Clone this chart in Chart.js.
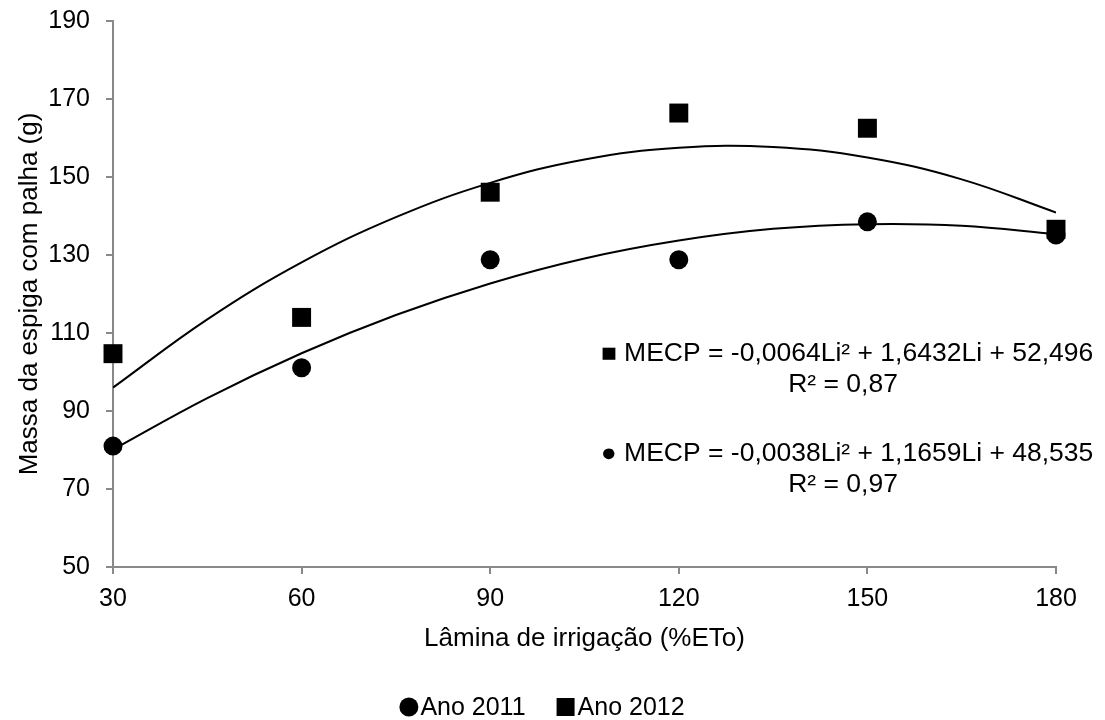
<!DOCTYPE html>
<html>
<head>
<meta charset="utf-8">
<script src="https://cdn.jsdelivr.net/npm/chart.js@4/dist/chart.umd.min.js"></script>
<style>
  html, body { margin: 0; padding: 0; background: #fff; }
  #wrap { width: 1105px; height: 720px; }
</style>
</head>
<body>
<div id="wrap"><canvas id="chart" width="1105" height="720"></canvas></div>
<script>
// Irrigation depth (%ETo)
const laminas = [30, 60, 90, 120, 150, 180];
// Measured ear mass with husk (g)
const ano2011 = [81, 101.1, 128.8, 128.8, 138.5, 135.1];
const ano2012 = [104.7, 114, 146.1, 166.4, 162.5, 136.6];

// Trend curves
const trendX = [30, 45, 60, 75, 90, 105, 120, 135, 150, 165, 180];
const trend2011 = [80.1, 93.3, 104.8, 114.6, 122.7, 129.1, 133.7, 136.7, 137.9, 137.5, 135.3];
const trend2012 = [96.0, 113.5, 128.1, 139.7, 148.5, 154.5, 157.5, 157.7, 155.0, 149.4, 140.9];

// Equation labels
const eq2012 = ['\u25A0 MECP = -0,0064Li\u00B2 + 1,6432Li + 52,496', 'R\u00B2 = 0,87'];
const eq2011 = ['\u25CF MECP = -0,0038Li\u00B2 + 1,1659Li + 48,535', 'R\u00B2 = 0,97'];
const legendItems = ['Ano 2011', 'Ano 2012'];

const FONT = "'Liberation Sans', Arial, sans-serif";
const axisGray = '#898989';

const toPoints = (xs, ys) => xs.map((x, i) => ({ x: x, y: ys[i] }));

// equations + bottom legend
const annotations = {
  id: 'annotations',
  afterDraw(chart) {
    const ctx = chart.ctx;
    ctx.save();
    ctx.fillStyle = '#000';
    ctx.textBaseline = 'alphabetic';
    ctx.textAlign = 'center';
    ctx.font = '25px ' + FONT;
    const cx = 847, sx = 1.06;
    const line = (txt, x, y) => {
      ctx.save();
      ctx.translate(x, y);
      ctx.scale(sx, 1);
      ctx.fillText(txt, 0, 0);
      ctx.restore();
    };
    line(eq2012[0], cx, 361);
    line(eq2012[1], cx - 4, 392);
    line(eq2011[0], cx, 461);
    line(eq2011[1], cx - 4, 492);

    // legend
    ctx.font = '25px ' + FONT;
    ctx.textAlign = 'left';
    ctx.textBaseline = 'middle';
    const mark = 19, gap = 2, between = 31;
    const w1 = ctx.measureText(legendItems[0]).width;
    const w2 = ctx.measureText(legendItems[1]).width;
    const total = mark + gap + w1 + between + mark + gap + w2;
    let x = 542 - total / 2;
    const y = 707;
    ctx.beginPath();
    ctx.arc(x + mark / 2, y, mark / 2, 0, Math.PI * 2);
    ctx.fill();
    x += mark + gap;
    ctx.fillText(legendItems[0], x, y + 1);
    x += w1 + between;
    ctx.fillRect(x, y - 9, 18, 18);
    x += mark + gap;
    ctx.fillText(legendItems[1], x, y + 1);
    ctx.restore();
  }
};

new Chart(document.getElementById('chart'), {
  type: 'scatter',
  plugins: [annotations],
  data: {
    datasets: [
      {
        label: 'Ano 2011',
        data: toPoints(laminas, ano2011),
        pointStyle: 'circle',
        pointRadius: 9.5,
        backgroundColor: '#000',
        borderColor: '#000',
        borderWidth: 0,
        clip: false,
        order: 1
      },
      {
        label: 'Ano 2012',
        data: toPoints(laminas, ano2012),
        pointStyle: 'rect',
        pointRadius: 13.4,
        backgroundColor: '#000',
        borderColor: '#000',
        borderWidth: 0,
        clip: false,
        order: 2
      },
      {
        label: 'Tendência 2011',
        type: 'line',
        data: toPoints(trendX, trend2011),
        borderColor: '#000',
        borderWidth: 2,
        pointRadius: 0,
        tension: 0.4,
        fill: false,
        order: 3
      },
      {
        label: 'Tendência 2012',
        type: 'line',
        data: toPoints(trendX, trend2012),
        borderColor: '#000',
        borderWidth: 2,
        pointRadius: 0,
        tension: 0.4,
        fill: false,
        order: 3
      }
    ]
  },
  options: {
    responsive: false,
    animation: false,
    layout: { padding: { top: 21, right: 49, bottom: 62, left: 0 } },
    scales: {
      x: {
        type: 'linear',
        min: 30,
        max: 180,
        afterFit: (scale) => { scale.height = 91; },
        ticks: {
          stepSize: 30,
          color: '#000',
          padding: 10,
          font: { family: FONT, size: 25 }
        },
        grid: {
          display: true,
          drawOnChartArea: false,
          drawTicks: true,
          tickLength: 7,
          color: axisGray,
          lineWidth: 2
        },
        border: { color: axisGray, width: 2 },
        title: {
          display: true,
          text: 'Lâmina de irrigação (%ETo)',
          color: '#000',
          font: { family: FONT, size: 26 },
          padding: { top: 4, bottom: 4 }
        }
      },
      y: {
        min: 50,
        max: 190,
        afterFit: (scale) => {
          scale.width = 113;
          // let layout padding decide the top/bottom edges
          scale.paddingTop = 0;
          scale.paddingBottom = 0;
        },
        ticks: {
          stepSize: 20,
          color: '#000',
          padding: 16,
          font: { family: FONT, size: 25 }
        },
        grid: {
          display: true,
          drawOnChartArea: false,
          drawTicks: true,
          tickLength: 7,
          color: axisGray,
          lineWidth: 2
        },
        border: { color: axisGray, width: 2 },
        title: {
          display: true,
          text: 'Massa da espiga com palha (g)',
          color: '#000',
          font: { family: FONT, size: 26 },
          padding: { top: 14, bottom: 4 }
        }
      }
    },
    plugins: {
      legend: { display: false },
      tooltip: { enabled: false }
    }
  }
});
</script>
</body>
</html>
